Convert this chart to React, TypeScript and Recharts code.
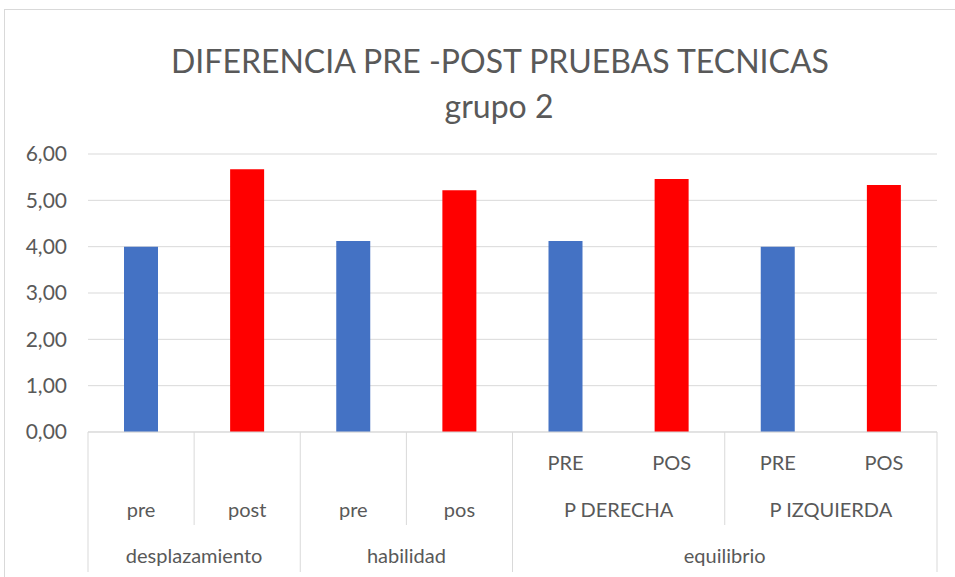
import { Bar, BarChart, CartesianGrid, Cell, XAxis, YAxis } from 'recharts';

const leafLabels = ['', '', '', '', 'PRE', 'POS', 'PRE', 'POS'];
const midLabels = ['pre', 'post', 'pre', 'pos', 'P DERECHA', 'P DERECHA', 'P IZQUIERDA', 'P IZQUIERDA'];
const groupLabels = ['desplazamiento', 'desplazamiento', 'habilidad', 'habilidad', 'equilibrio', 'equilibrio', 'equilibrio', 'equilibrio'];
const phases = ['pre', 'post', 'pre', 'post', 'pre', 'post', 'pre', 'post'];
const values = [4.0, 5.67, 4.12, 5.22, 4.12, 5.46, 4.0, 5.33];
const yTicks = [0, 1, 2, 3, 4, 5, 6];

const data = values.map((v, i) => ({ key: `c${i}`, value: v, phase: phases[i] }));

const W = 955;
const H = 577;
const PLOT_LEFT = 88;
const PLOT_RIGHT = 937;
const BAND = (PLOT_RIGHT - PLOT_LEFT) / values.length;
const FONT = 'Lato, "Open Sans", sans-serif';
const TEXT = '#595959';
const LINE = '#d9d9d9';

function runLength(arr: string[], i: number) {
  let n = 1;
  while (i + n < arr.length && arr[i + n] === arr[i]) n++;
  return n;
}

/** Three-level Excel-style category axis: leaf / mid / group rows + separators. */
function MultiTick(props: any) {
  const { x, y, payload } = props;
  const i: number = payload.index;
  const left = x - BAND / 2;
  const right = x + BAND / 2;
  const groupStart = i === 0 || groupLabels[i] !== groupLabels[i - 1];
  const midStart = i === 0 || midLabels[i] !== midLabels[i - 1];
  const last = i === values.length - 1;
  const common = { fill: TEXT, fontFamily: FONT, fontSize: 20, textAnchor: 'middle' as const };
  return (
    <g>
      {groupStart ? (
        <line x1={left} x2={left} y1={y} y2={572} stroke={LINE} />
      ) : midStart ? (
        <line x1={left} x2={left} y1={y} y2={525} stroke={LINE} />
      ) : null}
      {last && <line x1={right} x2={right} y1={y} y2={572} stroke={LINE} />}
      {leafLabels[i] && (
        <text x={x} y={y + 38} {...common}>
          {leafLabels[i]}
        </text>
      )}
      {midStart && (
        <text x={x + ((runLength(midLabels, i) - 1) * BAND) / 2} y={y + 85} {...common}>
          {midLabels[i]}
        </text>
      )}
      {groupStart && (
        <text x={x + ((runLength(groupLabels, i) - 1) * BAND) / 2} y={y + 131} {...common}>
          {groupLabels[i]}
        </text>
      )}
    </g>
  );
}

export default function App() {
  return (
    <div style={{ position: 'absolute', left: 0, top: 0, width: W, height: H, overflow: 'hidden', background: '#fff' }}>
      <div style={{ position: 'absolute', left: 4, top: 9, width: 1000, height: 1000, border: `1px solid ${LINE}` }} />
      <svg width={W} height={140} style={{ position: 'absolute', left: 0, top: 0 }}>
        <text x={500} y={73} textAnchor="middle" fill={TEXT} fontFamily={FONT} fontSize={32}>
          DIFERENCIA PRE -POST PRUEBAS TECNICAS
        </text>
        <text x={499} y={118} textAnchor="middle" fill={TEXT} fontFamily={FONT} fontSize={32}>
          grupo 2
        </text>
      </svg>
      <div style={{ position: 'absolute', left: 0, top: 0 }}>
        <BarChart width={W} height={H} data={data} margin={{ top: 154, right: W - PLOT_RIGHT, bottom: 0, left: 0 }}>
          <CartesianGrid vertical={false} stroke={LINE} />
          <XAxis
            dataKey="key"
            height={H - 432}
            tickLine={false}
            tickSize={0}
            tickMargin={0}
            axisLine={{ stroke: LINE }}
            interval={0}
            tick={<MultiTick />}
          />
          <YAxis
            width={PLOT_LEFT}
            domain={[0, 6]}
            ticks={yTicks}
            axisLine={false}
            tickLine={false}
            tickSize={0}
            tickMargin={21}
            tick={{ fill: TEXT, fontFamily: FONT, fontSize: 21 }}
            tickFormatter={(v: number) => v.toFixed(2).replace('.', ',')}
          />
          <Bar dataKey="value" barSize={34} isAnimationActive={false}>
            {data.map((d) => (
              <Cell key={d.key} fill={d.phase === 'pre' ? '#4472C4' : '#FF0000'} />
            ))}
          </Bar>
        </BarChart>
      </div>
    </div>
  );
}
